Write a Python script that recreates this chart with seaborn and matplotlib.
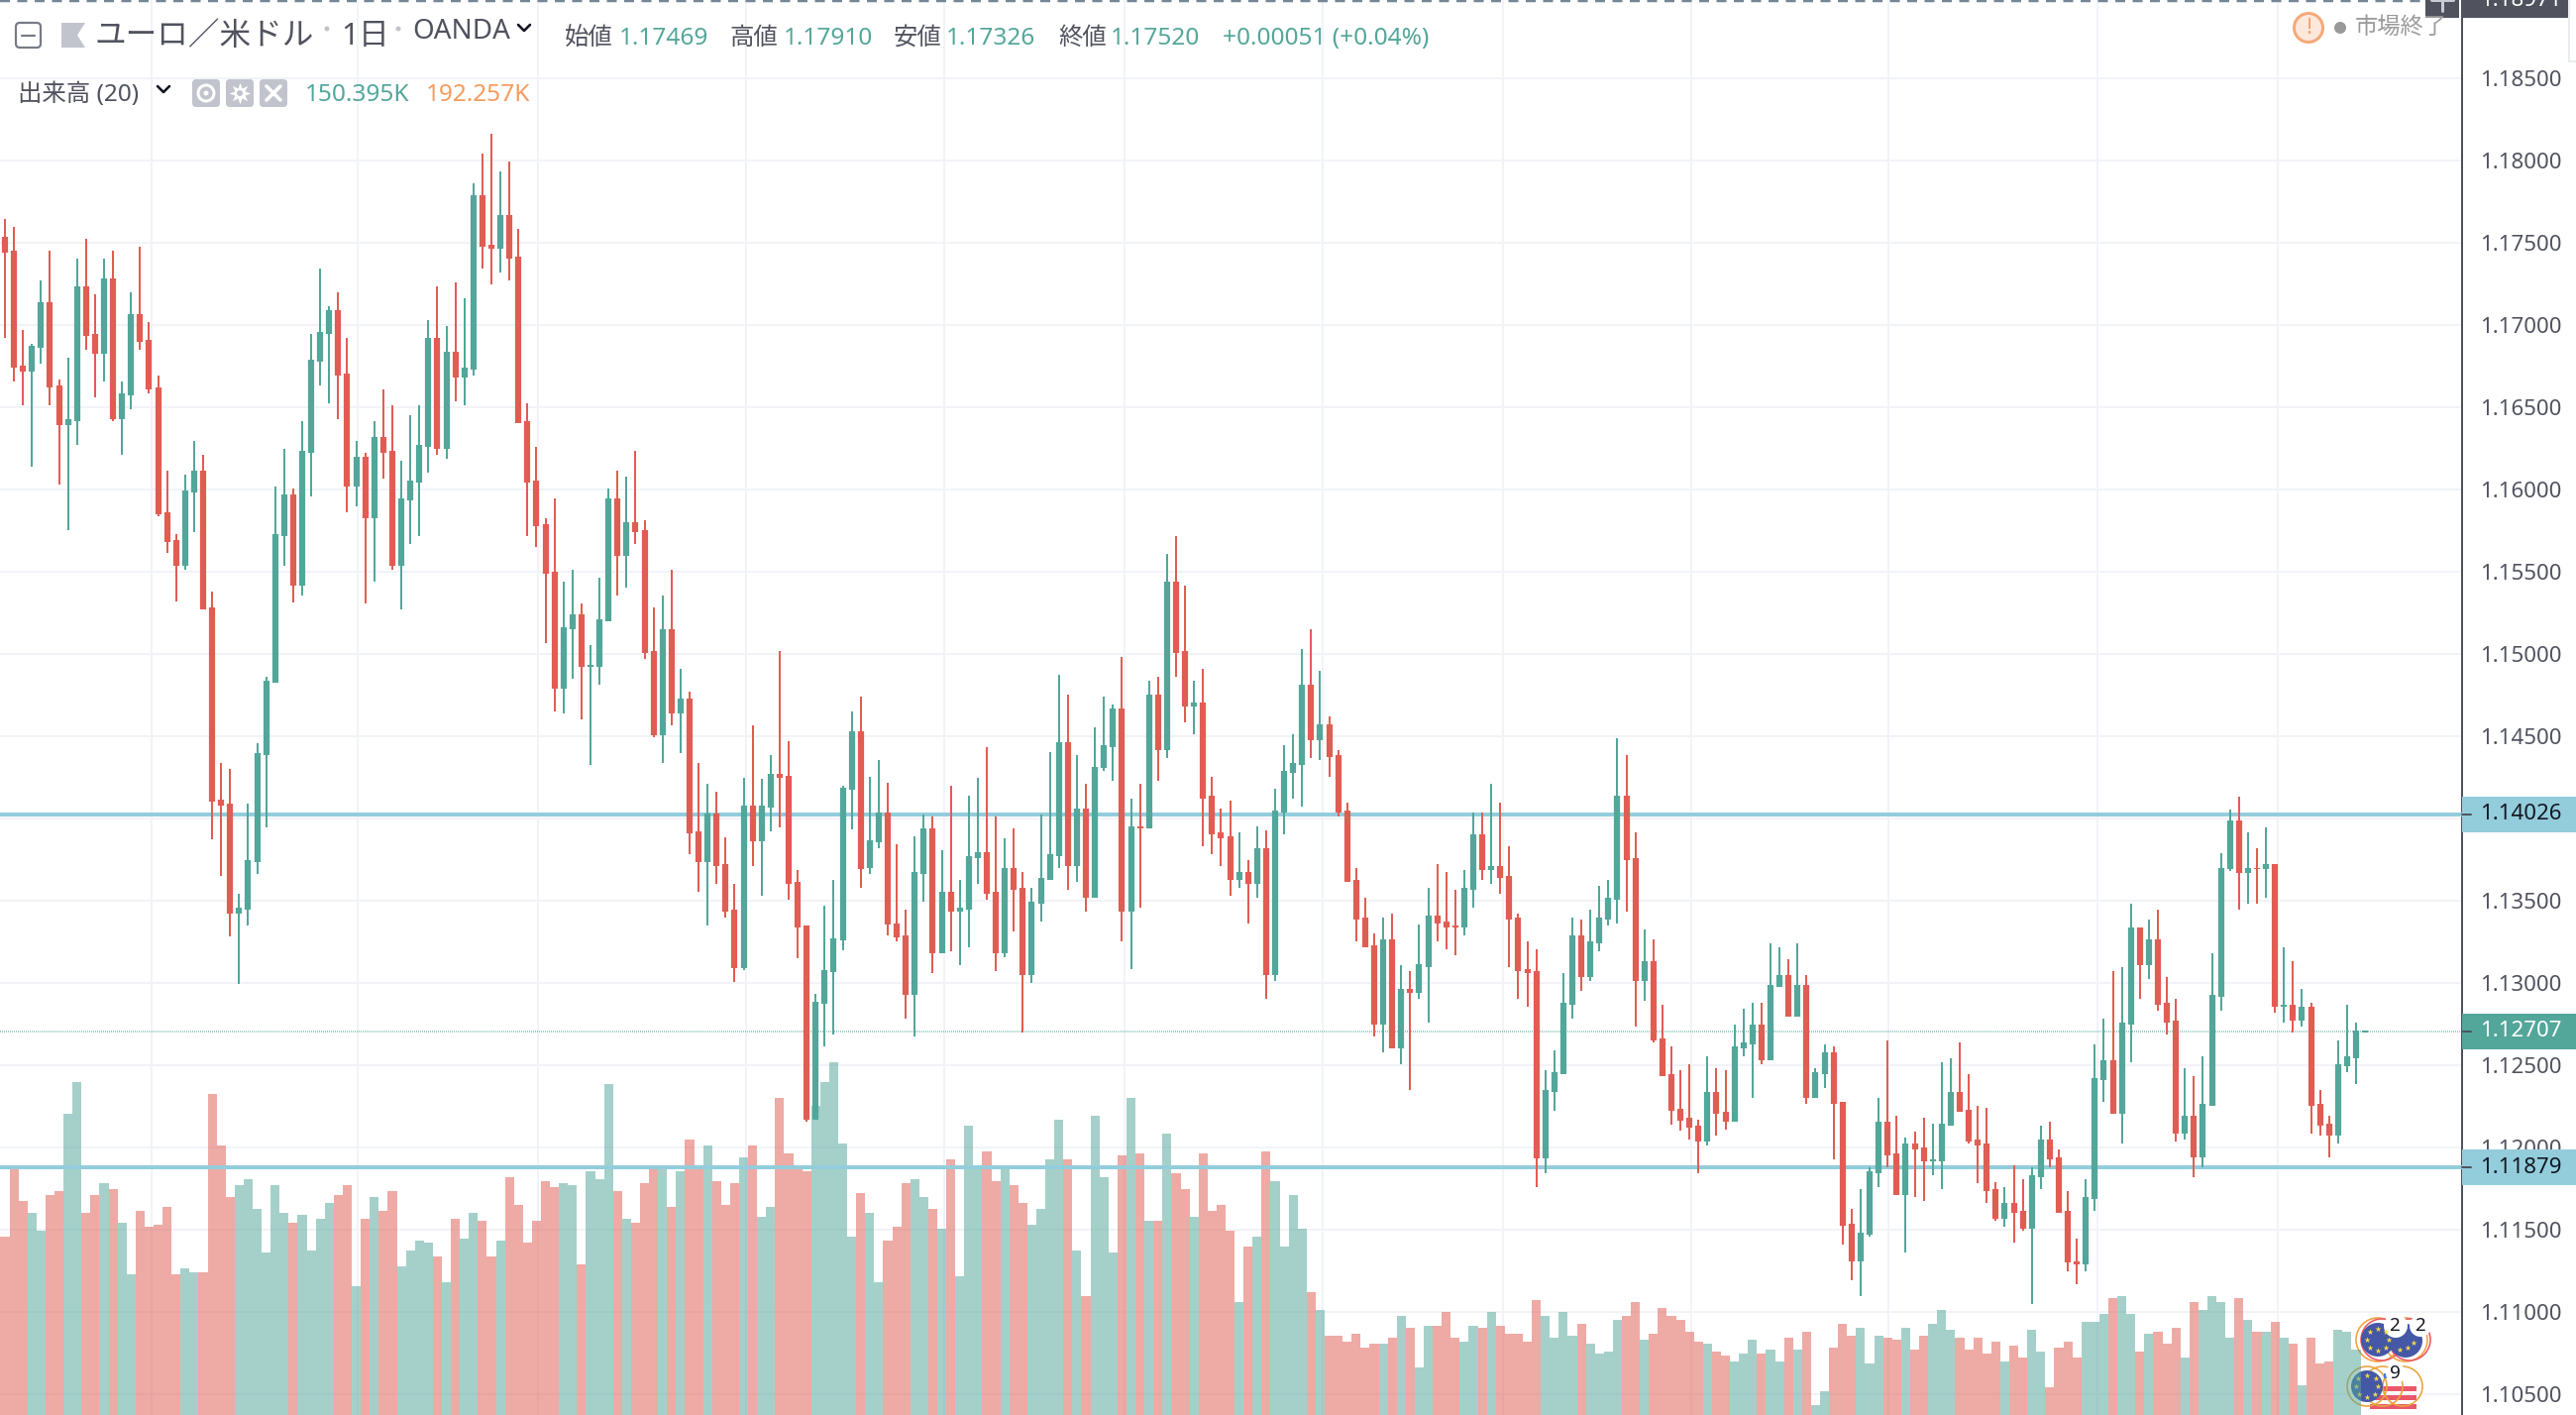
import matplotlib
matplotlib.use('Agg')
import matplotlib.pyplot as plt
from matplotlib.patches import Circle, FancyBboxPatch, Polygon, Rectangle
import pandas as pd
import seaborn as sns

# EUR/USD daily candles
opens = [1.17536,1.17452,1.16752,1.16717,1.16862,1.17138,1.16633,1.16393,1.16417,1.17236,1.16945,1.16826,1.17283,1.16429,1.16574,1.17067,1.16910,1.16621,1.15862,1.15693,
         1.15538,1.15983,1.16114,1.15283,1.14116,1.14091,1.13420,1.13445,1.13737,1.14384,1.14823,1.15719,1.15969,1.15417,1.16224,1.16776,1.16945,1.17090,1.16705,1.16019,
         1.16200,1.15826,1.16319,1.16236,1.15536,1.15933,1.16043,1.16260,1.16921,1.16248,1.16838,1.16681,1.16729,1.17788,1.17488,1.17464,1.17669,1.17414,1.16417,1.16055,
         1.15790,1.15500,1.14787,1.15152,1.15238,1.14921,1.14921,1.15201,1.15945,1.15598,1.15802,1.15752,1.15018,1.14506,1.15152,1.14640,1.14726,1.13920,1.13737,1.14030,
         1.13725,1.13445,1.13091,1.14079,1.13859,1.14067,1.14274,1.14262,1.13616,1.13347,1.12169,1.12871,1.13067,1.13262,1.14177,1.14530,
         1.13700,1.13857,1.14039,1.13362,1.13291,1.12928,1.13665,1.13942,1.13182,1.13556,1.13434,1.13448,1.13762,1.13796,1.13556,1.13182,1.13700,1.13579,1.13048,1.13482,
         1.13628,1.13773,1.14462,1.13713,1.14062,1.13519,1.14305,1.14436,1.14667,1.13434,1.13954,1.13942,1.14751,1.14413,1.15439,1.15016,1.14679,1.14702,1.14136,1.13917,
         1.13893,1.13628,1.13676,1.13605,1.13822,1.13048,1.14039,1.14279,1.14328,1.14811,1.14473,1.14570,1.14388,1.14051,1.13628,1.13399,1.13231,1.12745,1.13265,1.12602,
         1.12965,1.12939,1.13096,1.13410,1.13374,1.13351,1.13339,1.13568,1.13905,1.13688,1.13713,1.13651,1.13399,1.13085,1.13073,1.11931,1.12335,1.12443,1.12868,1.13291,
         1.13037,1.13242,1.13385,1.13508,1.14136,1.13762,1.13011,1.13133,1.12662,1.12443,1.12237,1.12179,
         1.12133,1.12036,1.12336,1.12216,1.12156,1.12602,1.12627,1.12747,1.12530,1.12978,1.13050,1.12796,1.12990,1.12301,1.12445,1.12579,1.12276,1.11539,1.11310,1.11467,
         1.11842,1.12156,1.11962,1.11710,1.12022,1.11999,1.11916,1.11916,1.12133,1.12336,1.12227,1.12047,1.12022,1.11745,1.11564,1.11661,1.11613,1.11504,1.11819,1.12047,
         1.11939,1.11613,1.11310,1.11287,1.11685,1.12410,1.12530,1.12204,1.12747,1.13336,1.13110,1.13267,1.12881,1.12773,1.12084,1.12193,1.11939,1.12253,1.12916,1.13690,
         1.13990,1.13667,1.13701,1.13690,1.13724,1.12856,1.12867,1.12773,1.12856,1.12264,1.12144,1.12070,1.12493,1.12541,1.12700]
highs = [1.17645,1.17595,1.16969,1.16886,1.17271,1.17452,1.16669,1.16800,1.17402,1.17524,1.17186,1.17402,1.17452,1.16657,1.17198,1.17476,1.17019,1.16693,1.16114,1.15728,
         1.16090,1.16295,1.16212,1.15379,1.14335,1.14299,1.13542,1.14091,1.14457,1.14860,1.16017,1.16248,1.16005,1.16417,1.16945,1.17343,1.17114,1.17198,1.16921,1.16295,
         1.16224,1.16417,1.16610,1.16512,1.16174,1.16452,1.16512,1.17031,1.17236,1.16993,1.17260,1.17162,1.17862,1.18040,1.18162,1.17933,1.17993,1.17583,1.16524,1.16260,
         1.15826,1.15945,1.15440,1.15512,1.15307,1.15055,1.15464,1.16005,1.16114,1.16079,1.16236,1.15814,1.15283,1.15357,1.15512,1.14909,1.14774,1.14335,1.14213,1.14164,
         1.13884,1.13603,1.14250,1.14567,1.14238,1.14384,1.15018,1.14469,1.13689,1.13347,1.12932,1.13469,1.13628,1.14201,1.14652,1.14738,
         1.14256,1.14353,1.14219,1.13845,1.13448,1.13893,1.14025,1.14014,1.13808,1.14196,1.13628,1.14136,1.14245,1.14436,1.14014,1.13882,1.13942,1.13676,1.13579,1.14025,
         1.14402,1.14871,1.14751,1.14388,1.14208,1.14556,1.14739,1.14690,1.14979,1.14122,1.14208,1.14836,1.14859,1.15608,1.15716,1.15416,1.14836,1.14908,1.14256,1.14062,
         1.14111,1.13917,1.13748,1.13954,1.13930,1.14182,1.14448,1.14510,1.15028,1.15150,1.14896,1.14619,1.14413,1.14099,1.13700,1.13519,1.13302,1.13399,1.13422,1.13108,
         1.13073,1.13355,1.13579,1.13725,1.13676,1.13568,1.13688,1.14039,1.14039,1.14208,1.14099,1.13833,1.13422,1.13254,1.13205,1.12469,1.12588,1.13060,1.13399,1.13385,
         1.13448,1.13591,1.13628,1.14485,1.14388,1.13917,1.13325,1.13265,1.12868,1.12614,1.12469,1.12507,
         1.12167,1.12555,1.12482,1.12470,1.12747,1.12844,1.12881,1.12881,1.13242,1.13218,1.13147,1.13242,1.13050,1.12482,1.12627,1.12615,1.12276,1.11625,1.11745,1.11879,
         1.12301,1.12650,1.12193,1.12059,1.12096,1.12179,1.12144,1.12518,1.12542,1.12639,1.12445,1.12253,1.12241,1.11789,1.11758,1.11890,1.11805,1.11879,1.12133,1.12156,
         1.11987,1.11733,1.11444,1.11805,1.12627,1.12784,1.13073,1.13096,1.13484,1.13336,1.13387,1.13447,1.13038,1.12904,1.12482,1.12433,1.12555,1.13181,1.13787,1.14052,
         1.14135,1.13918,1.13821,1.13944,1.13724,1.13218,1.13133,1.12964,1.12881,1.12350,1.12193,1.12650,1.12867,1.12759,1.12710]
lows = [1.16921,1.16659,1.16514,1.16140,1.16767,1.16514,1.16033,1.15755,1.16271,1.16850,1.16562,1.16657,1.16417,1.16212,1.16488,1.16850,1.16586,1.15838,1.15612,1.15321,
        1.15514,1.15743,1.15274,1.13872,1.13652,1.13286,1.12993,1.13347,1.13664,1.13945,1.14823,1.15538,1.15311,1.15357,1.15957,1.16633,1.16524,1.16429,1.15862,1.15898,
        1.15307,1.15440,1.16067,1.15514,1.15274,1.15671,1.15719,1.16102,1.16212,1.16188,1.16536,1.16512,1.16693,1.17343,1.17248,1.17319,1.17271,1.16405,1.15719,1.15648,
        1.15067,1.14652,1.14640,1.14848,1.14604,1.14323,1.14811,1.15201,1.15357,1.15405,1.15669,1.14970,1.14494,1.14335,1.14567,1.14396,1.13786,1.13555,1.13347,1.13603,
        1.13396,1.13006,1.13079,1.13713,1.13530,1.13920,1.13945,1.13506,1.13152,1.12155,1.12169,1.12615,1.12689,1.13201,1.13933,1.13579,
        1.13665,1.13822,1.13291,1.13254,1.12782,1.12674,1.13496,1.13060,1.13182,1.13194,1.13108,1.13217,1.13605,1.13508,1.13073,1.13157,1.13314,1.12699,1.13000,1.13374,
        1.13628,1.13700,1.13568,1.13616,1.13434,1.13519,1.14291,1.14231,1.13254,1.13085,1.13459,1.13942,1.14231,1.14365,1.14859,1.14582,1.14510,1.13834,1.13785,1.13713,
        1.13531,1.13579,1.13362,1.13519,1.12902,1.13011,1.13905,1.14122,1.14074,1.14365,1.14353,1.14256,1.14014,1.13616,1.13254,1.13217,1.12674,1.12577,1.12602,1.12505,
        1.12347,1.12902,1.12759,1.13254,1.13205,1.13168,1.13291,1.13459,1.13628,1.13605,1.13542,1.13096,1.12902,1.12856,1.11759,1.11845,1.12225,1.12443,1.12782,1.12951,
        1.13011,1.13194,1.13351,1.13362,1.13434,1.12734,1.12891,1.12637,1.12434,1.12139,1.12102,1.12047,
        1.11842,1.12010,1.12070,1.12107,1.12156,1.12555,1.12301,1.12507,1.12530,1.12978,1.12796,1.12796,1.12264,1.12301,1.12361,1.11927,1.11410,1.11190,1.11099,1.11456,
        1.11758,1.11879,1.11710,1.11361,1.11698,1.11673,1.11830,1.11745,1.12133,1.12216,1.12024,1.11782,1.11661,1.11553,1.11516,1.11421,1.11493,1.11050,1.11745,1.11879,
        1.11601,1.11250,1.11167,1.11250,1.11613,1.12276,1.12204,1.12024,1.12518,1.12904,1.13024,1.12833,1.12687,1.12036,1.12047,1.11819,1.11879,1.12253,1.12833,1.13678,
        1.13447,1.13484,1.13484,1.13521,1.12821,1.12759,1.12699,1.12736,1.12084,1.12070,1.11939,1.12024,1.12458,1.12385,1.12700]
closes = [1.17440,1.16740,1.16717,1.16874,1.17138,1.16621,1.16393,1.16429,1.17236,1.16933,1.16826,1.17283,1.16429,1.16583,1.17067,1.16898,1.16609,1.15850,1.15683,1.15538,
          1.15995,1.16114,1.15274,1.14103,1.14079,1.13420,1.13457,1.13750,1.14396,1.14835,1.15728,1.15969,1.15417,1.16236,1.16788,1.16957,1.17090,1.16693,1.16019,1.16200,
          1.15826,1.16319,1.16224,1.15536,1.15945,1.16055,1.16271,1.16921,1.16248,1.16838,1.16681,1.16740,1.17788,1.17476,1.17464,1.17669,1.17402,1.16405,1.16043,1.15779,
          1.15488,1.14787,1.15165,1.15238,1.14921,1.14933,1.15213,1.15945,1.15598,1.15802,1.15740,1.15006,1.14506,1.15152,1.14640,1.14726,1.13908,1.13737,1.14030,1.13713,
          1.13433,1.13091,1.14079,1.13859,1.14079,1.14274,1.14250,1.13603,1.13335,1.12169,1.12884,1.13079,1.13274,1.14189,1.14530,1.13695,
          1.13870,1.14039,1.13353,1.13277,1.12928,1.13676,1.13942,1.13182,1.13556,1.13434,1.13459,1.13773,1.13796,1.13545,1.13182,1.13700,1.13568,1.13048,1.13496,1.13639,
          1.13785,1.14462,1.13713,1.14062,1.13519,1.14316,1.14448,1.14667,1.13434,1.13954,1.13942,1.14751,1.14413,1.15439,1.15005,1.14679,1.14702,1.14122,1.13905,1.13882,
          1.13628,1.13676,1.13605,1.13822,1.13048,1.14051,1.14291,1.14339,1.14811,1.14473,1.14570,1.14376,1.14039,1.13616,1.13385,1.13217,1.12745,1.13265,1.12602,1.12965,
          1.12939,1.13113,1.13410,1.13362,1.13339,1.13339,1.13579,1.13905,1.13688,1.13713,1.13639,1.13385,1.13073,1.13060,1.11931,1.12347,1.12457,1.12879,1.13291,1.13037,
          1.13254,1.13399,1.13519,1.14136,1.13748,1.13011,1.13133,1.12648,1.12434,1.12225,1.12163,1.12119,
          1.12036,1.12336,1.12204,1.12156,1.12615,1.12639,1.12747,1.12530,1.12990,1.13050,1.12796,1.12990,1.12301,1.12458,1.12579,1.12264,1.11527,1.11310,1.11479,1.11853,
          1.12156,1.11950,1.11710,1.12022,1.11987,1.11916,1.11927,1.12144,1.12336,1.12216,1.12036,1.12010,1.11733,1.11564,1.11661,1.11601,1.11504,1.11830,1.12047,1.11927,
          1.11601,1.11299,1.11287,1.11696,1.12421,1.12530,1.12204,1.12759,1.13336,1.13110,1.13267,1.12867,1.12759,1.12084,1.12193,1.11939,1.12264,1.12930,1.13701,1.13990,
          1.13667,1.13701,1.13690,1.13724,1.12856,1.12867,1.12773,1.12856,1.12253,1.12133,1.12070,1.12507,1.12555,1.12710,1.12710]

# tops of the volume bars, in thousands (the newest candle has no bar)
volumes = [270.7,348.0,309.3,296.5,277.1,315.8,320.1,403.9,438.2,296.5,315.8,328.7,322.2,285.7,229.9,298.6,281.4,283.5,302.9,229.9,
           236.3,232.0,232.0,425.3,369.5,313.6,326.5,332.9,300.8,253.5,326.5,296.5,285.7,294.3,255.7,290.0,307.2,315.8,326.5,217.0,
           290.0,313.6,298.6,320.1,238.5,255.7,266.4,264.3,249.2,221.3,290.0,268.5,296.5,287.9,249.2,266.4,335.1,305.1,264.3,287.9,
           330.8,324.3,328.7,326.5,240.6,341.6,332.9,436.1,320.1,290.0,285.7,328.7,348.0,348.0,302.9,341.6,375.9,343.7,369.5,330.8,
           305.1,328.7,356.6,369.5,292.2,302.9,421.0,360.9,348.0,341.6,412.4,438.2,459.7,371.6,270.7,318.0,296.5,221.3,266.4,281.4,
           328.7,332.9,313.6,300.8,279.3,354.5,227.7,391.0,343.7,363.0,330.8,348.0,326.5,307.2,283.5,300.8,354.5,397.4,354.5,255.7,
           206.3,401.7,335.1,253.5,358.8,421.0,360.9,287.9,287.9,382.4,339.4,322.2,292.2,360.9,298.6,305.1,277.1,199.8,260.0,270.7,
           363.0,330.8,259.9,
           315.8,279.3,210.5,191.2,163.3,163.3,156.8,165.4,150.4,154.7,154.7,161.1,184.8,171.9,128.9,174.0,174.0,189.0,161.1,156.8,
           174.0,171.9,189.0,174.0,165.4,165.4,156.8,201.9,184.8,161.1,189.0,163.3,176.2,154.7,143.9,146.1,180.5,184.8,199.8,159.0,
           165.4,193.4,184.8,180.5,167.6,156.8,154.7,146.1,141.8,135.4,143.9,159.0,143.9,148.3,135.4,161.1,148.3,167.6,88.1,103.1,
           150.4,176.2,163.3,171.9,133.2,163.3,161.1,159.0,171.9,148.3,163.3,176.2,191.2,169.7,161.1,148.3,161.1,143.9,156.8,135.4,
           152.5,139.7,169.7,146.1,107.4,150.4,156.8,139.7,178.3,178.3,186.9,204.1,206.2,186.9,146.1,165.4,167.6,154.7,171.9,139.7,
           199.8,191.2,206.2,199.8,161.1,204.1,180.5,167.6,167.6,178.3,161.1,154.7,109.6,161.1,133.2,135.4,169.7,167.6,148.3]

# price axis and chart furniture
price_ticks = [1.185, 1.18, 1.175, 1.17, 1.165, 1.16, 1.155, 1.15, 1.145, 1.14, 1.135, 1.13, 1.125, 1.12, 1.115, 1.11, 1.105]
month_ticks = [16.28, 39.16, 59.17, 82.27, 104.27, 124.3, 146.3, 166.3, 187.2, 209.1, 232.3, 252.3]
level_prices = [1.14026, 1.11879]
last_price = 1.12707
crosshair_price = 1.18971
ohlc_labels = ['始値', '高値', '安値', '終値']
ohlc_values = ['1.17469', '1.17910', '1.17326', '1.17520']

UP = '#53a69a'
DOWN = '#e05d53'
GRID = '#f1f3f8'
TEXT = '#50535e'
LEVEL = '#93cddb'
PANEL = '#c1c4cd'
palette = {'up': UP, 'down': DOWN}

sns.set_theme(style='white')
plt.rcParams['font.family'] = ['Noto Sans', 'Noto Sans CJK JP', 'DejaVu Sans']

px = 72 / 200  # one image pixel in points

df = pd.DataFrame({'i': range(len(opens)), 'open': opens, 'high': highs, 'low': lows, 'close': closes})
df['dir'] = ['up' if c >= o else 'down' for o, c in zip(df['open'], df['close'])]
print(len(opens), len(highs), len(lows), len(closes), len(volumes))

wicks = df.melt(id_vars=['i', 'dir'], value_vars=['high', 'low'], value_name='price')
bodies = df.melt(id_vars=['i', 'dir'], value_vars=['open', 'close'], value_name='price')
vol = df.iloc[:len(volumes)][['i', 'dir']].copy()
vol['volume'] = volumes

fig = plt.figure(figsize=(13, 7.14), dpi=200, facecolor='white')
rect = [0, 0, 2485 / 2600, 1]
ax_grid = fig.add_axes(rect)
badges = fig.add_axes([0, 0, 1, 1], facecolor='none')
ax_vol = fig.add_axes(rect, facecolor='none')
ax = fig.add_axes(rect, facecolor='none')
over = fig.add_axes([0, 0, 1, 1], facecolor='none')

x_lim = (-5 / 9.092, (2485 - 5) / 9.092)
y_lim = (1.185 - 1349 / 16600, 1.185 + 79 / 16600)

# gridlines and price scale, the 1.14000 label sits under the level tag
ax_grid.set_xlim(x_lim)
ax_grid.set_ylim(y_lim)
ax_grid.set_xticks(month_ticks)
ax_grid.set_yticks(price_ticks)
ax_grid.set_yticklabels(['' if p == 1.14 else f'{p:.5f}' for p in price_ticks])
ax_grid.yaxis.tick_right()
ax_grid.grid(True, color=GRID, linewidth=2 * px)
ax_grid.tick_params(axis='x', length=0, labelbottom=False)
ax_grid.tick_params(axis='y', length=9 * px, width=2 * px, color=TEXT, labelcolor=TEXT, labelsize=8, pad=9 * px, right=True)
sns.despine(ax=ax_grid, left=True, top=True, bottom=True, right=False)
ax_grid.spines['right'].set_color(TEXT)
ax_grid.spines['right'].set_linewidth(2 * px)

# volume bars
sns.barplot(data=vol, x='i', y='volume', hue='dir', palette=palette, dodge=False, width=1, native_scale=True,
            errorbar=None, legend=False, alpha=0.52, saturation=1, linewidth=0, ax=ax_vol)
ax_vol.set_xlim(x_lim)
ax_vol.set_ylim(72 * 1.074, 1500 * 1.074)
ax_vol.axis('off')

# candles
sns.lineplot(data=wicks, x='i', y='price', units='i', hue='dir', palette=palette, estimator=None, sort=False,
             linewidth=2 * px, legend=False, solid_capstyle='butt', ax=ax)
sns.lineplot(data=bodies, x='i', y='price', units='i', hue='dir', palette=palette, estimator=None, sort=False,
             linewidth=6.2 * px, legend=False, solid_capstyle='butt', ax=ax)
for level in level_prices:
    ax.axhline(level, color=LEVEL, linewidth=4 * px, zorder=1)
ax.axhline(last_price, color=UP, alpha=0.55, linewidth=2 * px, linestyle=(0, (0.5, 0.5)), zorder=1)
ax.axhline(crosshair_price, color='#758696', linewidth=2.5 * px, linestyle=(0, (4, 3)))
ax.set_xlim(x_lim)
ax.set_ylim(y_lim)
ax.axis('off')

# overlay in image pixels: header, price tags
over.set_xlim(0, 2600)
over.set_ylim(1428, 0)
over.axis('off')
badges.set_xlim(0, 2600)
badges.set_ylim(1428, 0)
badges.axis('off')


def price_y(p):
    return 79 + (1.185 - p) * 16600


def tag(p, text, face, color):
    y = price_y(p)
    over.add_patch(Rectangle((2485, y - 18), 115, 36, color=face, lw=0, zorder=3))
    over.text(2503, y, text, color=color, fontsize=8, va='center', ha='left', zorder=4)
    over.plot([2485, 2494], [y, y], color=TEXT, lw=2 * px, zorder=4)


for level in level_prices:
    tag(level, f'{level:.5f}', LEVEL, '#131722')
tag(last_price, f'{last_price:.5f}', UP, 'white')
over.add_patch(Rectangle((2485, -20), 107, 38, color=TEXT, lw=0, zorder=3))
over.text(2503, 0, f'{crosshair_price:.5f}', color='white', fontsize=8, va='center', ha='left', zorder=4)
over.add_patch(Rectangle((2448, -5), 34, 23, color=TEXT, lw=0, zorder=3))
over.plot([2465, 2465], [0, 11], color='#c9cbd2', lw=3 * px, zorder=4)
over.plot([2454, 2476], [0, 0], color='#c9cbd2', lw=3 * px, zorder=4)
over.add_patch(Rectangle((2593, -5), 12, 67, facecolor='white', edgecolor='#e4e6ec', lw=1.5 * px, zorder=4))

# title row
over.add_patch(FancyBboxPatch((18, 25), 21, 21, boxstyle='round,pad=2,rounding_size=4', fill=False, edgecolor='#787b86', lw=2.2 * px))
over.plot([22, 35], [35.5, 35.5], color='#787b86', lw=2.2 * px)
over.add_patch(Polygon([(62, 23), (86, 23), (78, 35.5), (86, 48), (62, 48)], color=PANEL, lw=0))
over.text(96, 37, 'ユーロ／米ドル', color=TEXT, fontsize=11.4, va='center', ha='left')
over.add_patch(Circle((330, 29), 2.5, color=PANEL, lw=0))
over.text(344, 37, '1日', color=TEXT, fontsize=11.2, va='center', ha='left')
over.add_patch(Circle((402, 29), 2.5, color=PANEL, lw=0))
over.text(416, 32, 'OANDA', color=TEXT, fontsize=10, va='center', ha='left')
over.plot([523, 529, 535], [25, 31, 25], color='#131722', lw=2.6 * px)

for x_l, x_v, lab, val in zip([570, 736, 902, 1068], [625, 791, 955, 1121], ohlc_labels, ohlc_values):
    over.text(x_l, 39, lab, color=TEXT, fontsize=8.8, va='center', ha='left')
    over.text(x_v, 39, val, color=UP, fontsize=8.8, va='center', ha='left')
over.text(1234, 39, '+0.00051 (+0.04%)', color=UP, fontsize=8.8, va='center', ha='left')

# status at the right of the title row
over.add_patch(Circle((2330, 28), 14.5, facecolor='#fde8dc', edgecolor='#f6a878', lw=3 * px))
over.text(2330, 28, '!', color='#f6a06a', fontsize=8, va='center', ha='center')
over.add_patch(Circle((2362, 28), 6, color='#999999', lw=0))
over.text(2377, 28, '市場終了', color='#9b9b9b', fontsize=8.4, va='center', ha='left')

# volume row
over.text(18, 96, '出来高 (20)', color=TEXT, fontsize=8.8, va='center', ha='left')
over.plot([159, 165, 171], [87, 93, 87], color='#131722', lw=2.6 * px)
for x0 in [194, 228, 262]:
    over.add_patch(FancyBboxPatch((x0 + 3, 83), 22, 22, boxstyle='round,pad=3,rounding_size=4', color=PANEL, lw=0))
over.add_patch(Circle((208, 94), 8, fill=False, edgecolor='white', lw=3 * px))
over.add_patch(Circle((208, 94), 2.5, color='white', lw=0))
over.scatter([242], [94], s=60, marker=(8, 1, 0), color='white', linewidths=0)
over.add_patch(Circle((242, 94), 3, color=PANEL, lw=0))
over.plot([269, 283], [87, 101], color='white', lw=3.6 * px)
over.plot([269, 283], [101, 87], color='white', lw=3.6 * px)
over.text(308, 96, '150.395K', color=UP, fontsize=8.8, va='center', ha='left')
over.text(430, 96, '192.257K', color='#f59b5d', fontsize=8.8, va='center', ha='left')

# economic event badges at the bottom right, the volume bars draw over them
for cx in [2400, 2428]:
    badges.add_patch(Circle((cx, 1352), 22, fill=False, edgecolor='#f2a33c', lw=1.6 * px, zorder=2))
    badges.add_patch(Circle((cx + 4, 1352), 21, fill=False, edgecolor='#e9596a', lw=1.6 * px, zorder=2))
badges.add_patch(Circle((2428, 1353), 17, color='#4458a5', lw=0, zorder=2))
badges.add_patch(Circle((2400, 1352), 17, color='#4458a5', lw=0, zorder=2))
badges.add_patch(Circle((2418, 1338), 12, color='white', lw=0, zorder=2))
badges.add_patch(Circle((2443, 1338), 11, color='white', lw=0, zorder=2))
badges.text(2417, 1338, '2', color='#131722', fontsize=6.8, va='center', ha='center', zorder=3)
badges.text(2443, 1338, '2', color='#131722', fontsize=6.8, va='center', ha='center', zorder=3)
badges.scatter([2400, 2392, 2408, 2389, 2411, 2392, 2408, 2400, 2430, 2422, 2436],
               [1341, 1344, 1344, 1352, 1352, 1360, 1360, 1363, 1360, 1362, 1355],
               s=5, marker='*', color='#f4d94a', linewidths=0, zorder=3)
for y0 in [1402, 1411, 1420]:
    badges.add_patch(Rectangle((2392, y0 - 3), 47, 4.5, color='#e9596a', lw=0, zorder=2))
for cx in [2389, 2405, 2425]:
    badges.add_patch(Circle((cx, 1399), 20, fill=False, edgecolor='#e9a33c', lw=1.6 * px, zorder=2))
badges.add_patch(Circle((2389, 1399), 16, color='#4458a5', lw=0, zorder=2))
badges.add_patch(Rectangle((2406, 1386), 5, 5, color='#4a7fd0', lw=0, zorder=2))
badges.scatter([2389, 2380, 2398, 2378, 2400, 2381, 2397, 2389],
               [1388, 1391, 1391, 1399, 1399, 1407, 1407, 1410],
               s=5, marker='*', color='#f4d94a', linewidths=0, zorder=3)
badges.add_patch(Circle((2418, 1386), 10, color='white', lw=0, zorder=2))
badges.text(2417, 1386, '9', color='#131722', fontsize=6.8, va='center', ha='center', zorder=3)

fig.savefig('out.png', dpi=200, facecolor='white')
